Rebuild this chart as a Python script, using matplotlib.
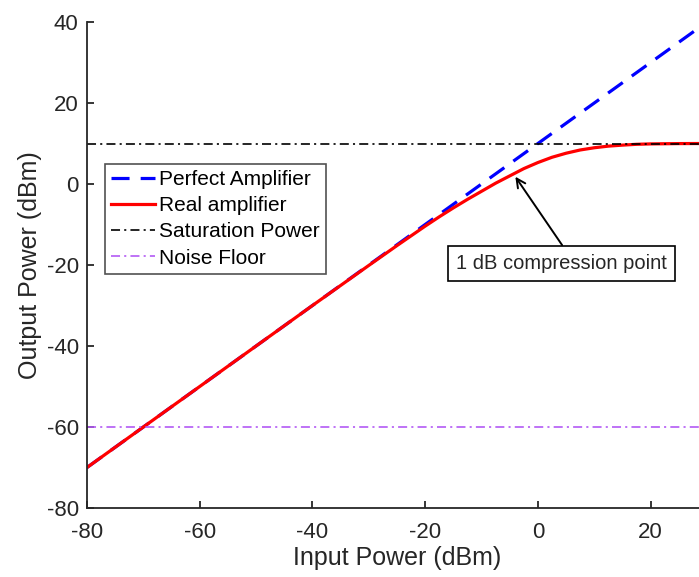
import matplotlib.pyplot as plt
import numpy as np

plt.rcParams['font.family'] = ['Liberation Sans', 'DejaVu Sans']
plt.rcParams['lines.scale_dashes'] = False
plt.rcParams['axes.unicode_minus'] = False

# perfect amplifier (gain of 10 dB), endpoints
perfect_in = [-80, 30]
perfect_out = [-70, 40]

# real amplifier
real_in = [-80, -60, -40, -30, -25, -20, -17.5, -15, -12.5, -10, -7.5, -5, -2.5, 0,
           2.5, 5, 7.5, 10, 12.5, 15, 17.5, 20, 25, 30]
real_out = [-70, -50, -30, -20.1, -15.2, -10.4, -8.1, -5.9, -3.8, -1.8, 0.2, 2.0, 3.8, 5.3,
            6.6, 7.6, 8.4, 8.95, 9.35, 9.6, 9.8, 9.9, 9.98, 10]

sat_level = 10
noise_level = -60

fig = plt.figure(figsize=(6.99, 5.77), dpi=100)
ax = fig.add_axes([87 / 699, 69 / 577, 620 / 699, 486 / 577])

ax.plot(perfect_in, perfect_out, color='#0000FF', lw=2.3, dashes=(13, 8), label='Perfect Amplifier')
ax.plot(real_in, real_out, color='#FF0000', lw=2.3, label='Real amplifier')
ax.axhline(sat_level, color='black', lw=1.2, dashes=(6.5, 3, 1.5, 3), label='Saturation Power')
ax.axhline(noise_level, color='#B35AF5', lw=1.2, dashes=(6.5, 3, 1.5, 3), label='Noise Floor')

ax.set_xlim(-80, 30)
ax.set_ylim(-80, 40)
ax.set_xticks([-80, -60, -40, -20, 0, 20])
ax.set_yticks([-80, -60, -40, -20, 0, 20, 40])
for s in ['top', 'right']:
    ax.spines[s].set_visible(False)
for s in ['left', 'bottom']:
    ax.spines[s].set_color('#262626')
    ax.spines[s].set_linewidth(1.3)
ax.tick_params(direction='in', length=5, width=1.3, color='#262626', labelsize=16,
               labelcolor='#262626')
ax.tick_params(axis='x', pad=10)
ax.tick_params(axis='y', pad=6)

ax.set_xlabel('Input Power (dBm)', fontsize=18, color='#262626', labelpad=2)
ax.set_ylabel('Output Power (dBm)', fontsize=18, color='#262626', labelpad=3)

leg = ax.legend(loc='upper left', bbox_to_anchor=(18 / 620, 344 / 486), fontsize=15,
                frameon=True, fancybox=False, edgecolor='#262626', handlelength=2.1,
                handletextpad=0.2, labelspacing=0.34, borderpad=0.3, borderaxespad=0)
leg.get_frame().set_linewidth(1.2)

# arrow and boxed label for the 1 dB compression point
ax.annotate('', xy=(-4.0, 1.8), xytext=(4.3, -15.1),
            arrowprops=dict(arrowstyle='->', color='black', lw=1.4, shrinkA=0, shrinkB=0,
                            mutation_scale=16))
ax.text(4.1, -19.6, '1 dB compression point', fontsize=14.5, color='#262626',
        ha='center', va='center',
        bbox=dict(boxstyle='square,pad=0.4', fc='white', ec='black', lw=1.2))

fig.savefig('out.png', dpi=100)
